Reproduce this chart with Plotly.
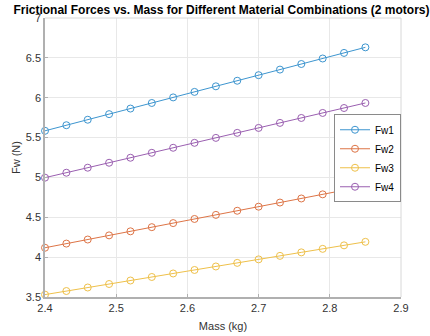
import plotly.graph_objects as go

mass = [2.40, 2.43, 2.46, 2.49, 2.52, 2.55, 2.58, 2.61, 2.64, 2.67, 2.70, 2.73, 2.76, 2.79, 2.82, 2.85]
fw1 = [5.585, 5.655, 5.724, 5.794, 5.864, 5.934, 6.004, 6.073, 6.143, 6.213, 6.283, 6.353, 6.423, 6.492, 6.562, 6.632]
fw2 = [4.118, 4.170, 4.221, 4.273, 4.324, 4.376, 4.427, 4.479, 4.530, 4.582, 4.633, 4.685, 4.736, 4.788, 4.839, 4.891]
fw3 = [3.530, 3.575, 3.619, 3.663, 3.707, 3.751, 3.795, 3.839, 3.883, 3.928, 3.972, 4.016, 4.060, 4.104, 4.148, 4.192]
fw4 = [4.997, 5.059, 5.122, 5.184, 5.247, 5.309, 5.372, 5.434, 5.496, 5.559, 5.621, 5.684, 5.746, 5.809, 5.871, 5.934]
names = ["Fw1", "Fw2", "Fw3", "Fw4"]
colors = ["#3d95cf", "#dd7446", "#eec04a", "#9a5fb0"]

x_ticks = [2.4, 2.5, 2.6, 2.7, 2.8, 2.9]
y_ticks = [3.5, 4, 4.5, 5, 5.5, 6, 6.5, 7]

fig = go.Figure()
for name, vals, c in zip(names, [fw1, fw2, fw3, fw4], colors):
    fig.add_trace(go.Scatter(
        x=mass, y=vals, name=name, mode="lines+markers",
        line=dict(color=c, width=1),
        marker=dict(symbol="circle-open", size=7, color=c, line=dict(width=1, color=c)),
        cliponaxis=False,
    ))

font_family = "Liberation Sans, Arial, sans-serif"
tick_color = "#333333"

fig.update_layout(
    width=430, height=336,
    margin=dict(l=45, r=29, t=18, b=39),
    paper_bgcolor="white", plot_bgcolor="white",
    font=dict(family=font_family, size=11, color=tick_color),
    title=dict(text="<b>Frictional Forces vs. Mass for Different Material Combinations (2 motors)</b>",
               x=0.515, xanchor="center", y=0.972, yanchor="middle",
               font=dict(family=font_family, size=12, color="black")),
    xaxis=dict(range=[2.4, 2.9], tickvals=x_ticks, ticktext=["2.4", "2.5", "2.6", "2.7", "2.8", "2.9"],
               showgrid=True, gridcolor="#e8e8e8", gridwidth=1,
               showline=True, linecolor="#b0b0b0", linewidth=1.5,
               ticks="inside", ticklen=3, tickcolor="#b0b0b0",
               zeroline=False, automargin=False,
               title=dict(text="Mass (kg)", standoff=9, font=dict(size=11, color=tick_color)),
               tickfont=dict(size=11, color=tick_color)),
    yaxis=dict(range=[3.5, 7], tickvals=y_ticks, ticktext=["3.5", "4", "4.5", "5", "5.5", "6", "6.5", "7"],
               showgrid=True, gridcolor="#e8e8e8", gridwidth=1,
               showline=True, linecolor="#b0b0b0", linewidth=1.5,
               ticks="inside", ticklen=3, tickcolor="#b0b0b0",
               zeroline=False, automargin=False,
               title=dict(text="Fw (N)", standoff=3, font=dict(size=11, color=tick_color)),
               tickfont=dict(size=11, color=tick_color)),
    legend=dict(x=1, xanchor="right", y=0.655, yanchor="top",
                bgcolor="white", bordercolor="#8a8a8a", borderwidth=1,
                font=dict(size=10, color="black"), tracegroupgap=0,
                itemwidth=30),
    showlegend=True,
)

fig.add_shape(type="line", xref="paper", yref="paper", x0=0, x1=1, y0=1, y1=1,
              line=dict(color="#d8d8d8", width=1))
fig.add_shape(type="line", xref="paper", yref="paper", x0=1, x1=1, y0=0, y1=1,
              line=dict(color="#d8d8d8", width=1))

fig.write_html("out.html")
